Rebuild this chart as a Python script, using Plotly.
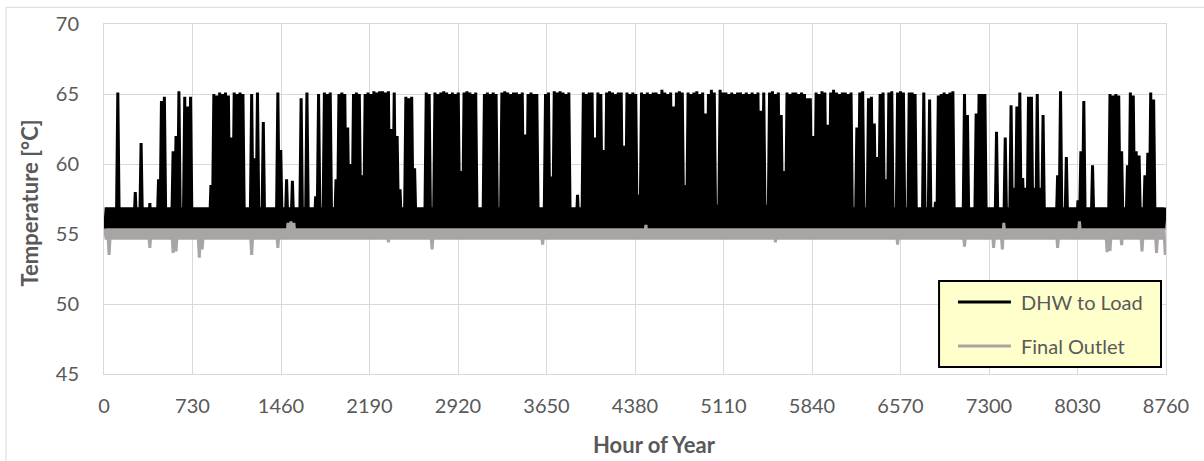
import plotly.graph_objects as go

# ---------------- data ----------------
x_ticks = [0, 730, 1460, 2190, 2920, 3650, 4380, 5110, 5840, 6570, 7300, 8030, 8760]
y_ticks = [45, 50, 55, 60, 65, 70]

series_names = ["DHW to Load", "Final Outlet"]
series_colors = ["#000000", "#A8A5A4"]

B = 56.9  # top of the DHW baseline band on days without a peak
# DHW to Load: daily maximum temperature, day 0 .. 364
dhw_daily_max = [
    B, B, B, B, 65.1, B, B, B, B, B,
    58.0, B, 61.5, B, B, 57.2, B, B, 58.9, 64.5,
    64.8, B, B, 60.9, 62.0, 65.2, B, 64.8, 64.1, 64.8,
    B, B, B, B, B, B, 58.5, 65.0, 64.9, 65.1,
    65.0, 65.1, 64.9, 61.9, 65.1, 65.0, 65.1, 65.0, B, B,
    65.0, 60.4, 65.1, B, 63.0, B, B, B, B, 65.1,
    61.0, B, 58.9, B, 58.8, B, B, 64.7, B, 65.1,
    B, B, 57.7, 65.0, B, 65.1, 65.0, 65.1, B, 58.9,
    65.0, 65.1, 65.0, 62.6, 60.0, 65.0, 65.1, 65.0, 59.2, 65.0,
    65.1, 65.0, 65.2, 65.1, 65.2, 65.2, 65.1, 65.2, 62.5, 65.1,
    62.0, 58.2, B, 64.8, 64.7, 64.8, 59.7, B, B, B,
    65.1, 65.0, B, 65.1, 65.0, 65.1, 65.2, 65.1, 65.0, 65.1,
    65.0, 65.1, 59.5, 65.1, 65.2, 65.1, 65.0, 65.1, B, B,
    65.0, 65.1, 65.0, 65.1, 65.0, B, 65.1, 65.2, 65.1, 65.0,
    65.1, 65.1, 65.0, 65.1, 62.1, 65.0, 65.1, 65.0, 65.0, B,
    B, 65.0, 65.1, 59.1, 65.2, 65.1, 65.2, 65.1, 65.0, 65.1,
    B, B, 57.8, B, 65.1, 65.0, 65.1, 65.1, 61.9, 65.1,
    65.0, 61.0, 65.1, 65.2, 65.1, 65.0, 65.1, 65.1, 61.3, 65.1,
    65.0, 65.1, 65.0, 57.8, 65.1, 65.0, 65.1, 65.0, 65.1, 65.1,
    65.0, 65.3, 65.1, 65.0, 65.1, 64.1, 65.1, 65.2, 65.1, 58.5,
    65.1, 65.0, 65.1, 65.2, 65.0, 65.1, 63.6, 65.0, 65.3, 65.1,
    57.1, 65.3, 65.1, 65.1, 65.0, 65.1, 65.0, 65.1, 65.1, 65.0,
    65.1, 65.0, 65.1, 65.0, 65.1, 63.8, 65.1, 57.1, 65.1, 65.2,
    65.0, 65.1, 63.5, 59.5, 65.1, 65.0, 65.1, 65.1, 65.0, 65.1,
    65.0, 64.7, 64.7, 62.0, 65.1, 65.0, 65.2, 65.1, 62.8, 65.1,
    65.3, 65.1, 65.0, 65.1, 65.1, 65.0, 65.1, B, 62.6, 65.1,
    65.2, B, 64.7, 64.8, 62.9, 60.5, 65.0, 65.1, 58.9, 65.1,
    65.2, B, 65.1, 65.2, 65.1, B, 65.1, 65.1, 65.0, B,
    B, 65.1, B, 64.6, B, 57.3, 64.9, 65.0, 65.1, 65.0,
    65.1, 65.2, B, B, B, 65.0, 63.5, B, B, 63.6,
    65.0, 65.0, 65.0, B, B, B, 62.3, B, B, 61.9,
    B, 64.2, 58.3, 64.1, 65.1, 59.0, 58.3, 64.8, 64.8, 58.3,
    65.0, 58.3, 63.5, B, B, B, B, 59.2, 65.2, B,
    60.5, B, B, B, 57.4, 60.9, 64.5, B, B, 59.9,
    B, B, B, B, B, 65.0, 64.9, 65.0, 64.9, 60.9,
    B, 59.9, 65.1, 64.9, 60.9, 60.6, B, 59.2, 60.8, 65.1,
    64.6, B, B, B, B,
]
dhw_daily_min = 55.3  # bottom of the DHW band (hidden under the grey line)

# Final Outlet: usual daily high / low, plus visible dips and bumps
final_daily_high = 55.4
final_daily_low = 54.6
final_dip_days = [1, 15, 23, 24, 32, 33, 50, 59, 97, 112, 150, 230, 272, 295,
                  305, 308, 327, 344, 345, 349, 356, 361, 364]
final_dip_temps = [53.5, 54.0, 53.65, 53.75, 53.3, 53.9, 53.5, 54.0, 54.4, 53.9,
                   54.25, 54.4, 54.25, 54.1, 54.0, 53.9, 54.0, 53.7, 53.8, 54.2,
                   53.75, 53.65, 53.5]
final_bump_days = [63, 64, 65, 186, 309, 335]
final_bump_temps = [55.8, 55.9, 55.8, 55.65, 55.8, 55.9]

# ---------------- build the hourly traces ----------------
n_days = len(dhw_daily_max)
fin_low = [final_daily_low] * n_days
fin_high = [final_daily_high] * n_days
for d, t in zip(final_dip_days, final_dip_temps):
    fin_low[d] = t
for d, t in zip(final_bump_days, final_bump_temps):
    fin_high[d] = t

x_dhw, y_dhw, x_fin, y_fin = [], [], [], []
for d in range(n_days):
    x_dhw += [24 * d + 6, 24 * d + 18]
    y_dhw += [dhw_daily_min, dhw_daily_max[d]]
    x_fin += [24 * d + 6, 24 * d + 18]
    y_fin += [fin_high[d], fin_low[d]]

FONT = "Lato"
TXT = "#595959"
GRID = "#D9D9D9"

fig = go.Figure()
fig.add_trace(go.Scatter(x=x_dhw, y=y_dhw, mode="lines", name=series_names[0],
                         line=dict(color=series_colors[0], width=3), showlegend=False))
fig.add_trace(go.Scatter(x=x_fin, y=y_fin, mode="lines", name=series_names[1],
                         line=dict(color=series_colors[1], width=3), showlegend=False))

# legend box drawn in paper coordinates (Excel-style yellow box)
leg_x0, leg_x1, leg_y0, leg_y1 = 0.7863, 0.9953, 0.02, 0.2657
leg_line_x0, leg_line_x1, leg_text_x = 0.8041, 0.8540, 0.8616
leg_rows = [0.2057, 0.08]

shapes = [
    dict(type="rect", xref="paper", yref="paper",
         x0=-0.0923, x1=1.06, y0=-0.32, y1=1.0477,
         line=dict(color=GRID, width=1), fillcolor="rgba(0,0,0,0)", layer="below"),
    dict(type="rect", xref="paper", yref="paper",
         x0=leg_x0, x1=leg_x1, y0=leg_y0, y1=leg_y1,
         line=dict(color="#000000", width=2), fillcolor="#FFFFCC", layer="above"),
]
annotations = [
    dict(text="<b>Hour of Year</b>", xref="paper", yref="paper",
         x=0.5188, y=-0.2, xanchor="center", yanchor="middle",
         showarrow=False, font=dict(family=FONT, size=22, color=TXT)),
    dict(text="<b>Temperature [°C]</b>", xref="paper", yref="paper",
         x=-0.0697, y=0.49, xanchor="center", yanchor="middle", textangle=-90,
         showarrow=False, font=dict(family=FONT, size=22, color=TXT)),
]
for name, color, yy in zip(series_names, series_colors, leg_rows):
    shapes.append(dict(type="line", xref="paper", yref="paper",
                       x0=leg_line_x0, x1=leg_line_x1, y0=yy, y1=yy,
                       line=dict(color=color, width=3), layer="above"))
    annotations.append(dict(text=name, xref="paper", yref="paper",
                            x=leg_text_x, y=yy, xanchor="left", yanchor="middle",
                            showarrow=False, font=dict(family=FONT, size=20, color=TXT)))

fig.update_layout(
    width=1204, height=461,
    margin=dict(l=104, r=38, t=24, b=87),
    paper_bgcolor="white", plot_bgcolor="white",
    font=dict(family=FONT, size=20, color=TXT),
    showlegend=False,
    xaxis=dict(
        range=[0, 8760], tickvals=x_ticks, ticktext=[str(v) for v in x_ticks],
        showgrid=True, gridcolor=GRID, gridwidth=1,
        showline=True, linecolor=GRID, linewidth=1, mirror=True,
        zeroline=False, ticks="", ticklabelstandoff=14,
        tickfont=dict(family=FONT, size=20, color=TXT),
    ),
    yaxis=dict(
        range=[45, 70], tickvals=y_ticks,
        showgrid=True, gridcolor=GRID, gridwidth=1,
        showline=True, linecolor=GRID, linewidth=1, mirror=True,
        zeroline=False, ticks="", ticklabelstandoff=20,
        tickfont=dict(family=FONT, size=20, color=TXT),
    ),
    annotations=annotations,
    shapes=shapes,
)

fig.write_html("out.html", config={"displayModeBar": False},
               post_script="document.body.style.margin='0px';")
